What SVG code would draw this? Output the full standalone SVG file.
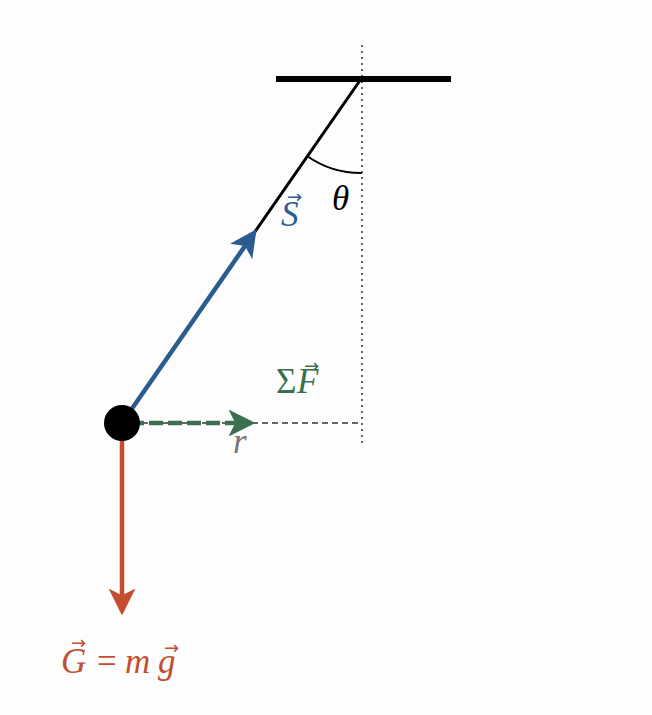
<svg xmlns="http://www.w3.org/2000/svg" width="652" height="715" viewBox="0 0 652 715">
<style>
.m{font-family:"Liberation Serif","DejaVu Serif",serif;font-style:italic;font-size:35px}
.u{font-style:normal}
.a{font-family:"DejaVu Sans","Liberation Sans",sans-serif;font-style:normal;font-size:18px}
</style>
<defs>
<marker id="ab" markerWidth="6" markerHeight="6" refX="5" refY="3" orient="auto" markerUnits="strokeWidth"><path d="M0,0 L6,3 L0,6 L1.5,3 Z" fill="#2b5c8f"/></marker>
<marker id="ag" markerWidth="6" markerHeight="6" refX="5" refY="3" orient="auto" markerUnits="strokeWidth"><path d="M0,0 L6,3 L0,6 L1.5,3 Z" fill="#3a7050"/></marker>
<marker id="ar" markerWidth="6" markerHeight="6" refX="5" refY="3" orient="auto" markerUnits="strokeWidth"><path d="M0,0 L6,3 L0,6 L1.5,3 Z" fill="#c44e32"/></marker>
</defs>
<rect width="652" height="715" fill="#fdfdfd"/>
<g id="guides">
<line x1="362" y1="45" x2="362" y2="443" stroke="#666" stroke-width="2" stroke-dasharray="2,4"/>
<line x1="122" y1="423" x2="362" y2="423" stroke="#666" stroke-width="2" stroke-dasharray="6,4"/>
</g>
<g id="support"><line x1="276" y1="79" x2="451" y2="79" stroke="#000" stroke-width="6"/></g>
<g id="connectors">
<line x1="361" y1="79" x2="122" y2="423" stroke="#000" stroke-width="3"/>
<path d="M307.4,156.2 A94,94 0 0 0 362,173" fill="none" stroke="#000" stroke-width="2"/>
<line x1="122" y1="423" x2="254" y2="233" stroke="#2b5c8f" stroke-width="4.5" marker-end="url(#ab)"/>
<line x1="130" y1="423" x2="251" y2="423" stroke="#3a7050" stroke-width="4.5" stroke-dasharray="14,5" marker-end="url(#ag)"/>
<line x1="122" y1="423" x2="122" y2="611" stroke="#c44e32" stroke-width="4.5" marker-end="url(#ar)"/>
</g>
<g id="bob"><circle cx="122" cy="423" r="18" fill="#000"/></g>
<g id="labels">
<text class="m" x="332" y="210" fill="#000">θ</text>
<text class="m" x="281" y="226" fill="#2b5c8f">S<tspan class="a" x="287" y="203">→</tspan></text>
<text class="m" x="276" y="393" fill="#3a7050"><tspan class="u">Σ</tspan><tspan x="297" y="393">F</tspan><tspan class="a" x="304" y="372">→</tspan></text>
<text class="m" x="233" y="453" fill="#777">r</text>
<text class="m" x="61" y="673" fill="#c44e32">G<tspan class="a" x="71" y="649">→</tspan><tspan class="u" x="97" y="673">=</tspan><tspan x="125" y="673">m</tspan><tspan x="158" y="673">g</tspan><tspan class="a" x="164" y="654">→</tspan></text>
</g>
</svg>
